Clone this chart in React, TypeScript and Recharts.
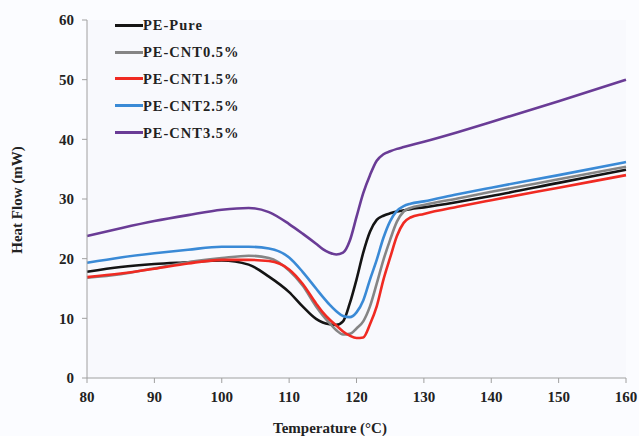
import { CartesianGrid, Line, LineChart, XAxis, YAxis } from "recharts"

const temps = [80, 85, 90, 95, 100, 104, 107, 110, 112, 114, 115, 116, 117, 118, 119, 120, 121, 122, 123, 124, 125, 126, 127, 128, 130, 135, 140, 150, 160]

const pePure = [17.8, 18.6, 19.1, 19.4, 19.7, 19.0, 17.0, 14.4, 12.0, 9.9, 9.3, 9.0, 8.9, 9.5, 12.5, 16.5, 21.0, 24.5, 26.5, 27.2, 27.6, 27.9, 28.1, 28.3, 28.6, 29.5, 30.5, 32.7, 34.9]
const cnt05 = [16.8, 17.4, 18.4, 19.4, 20.1, 20.5, 20.1, 18.0, 15.5, 12.0, 10.5, 9.2, 8.0, 7.3, 7.4, 8.3, 9.5, 12.0, 15.8, 19.8, 23.2, 26.2, 27.9, 28.5, 29.0, 30.1, 31.2, 33.3, 35.4]
const cnt15 = [16.9, 17.5, 18.3, 19.2, 19.8, 19.8, 19.6, 18.2, 15.8, 12.5, 11.0, 9.8, 8.8, 7.8, 7.1, 6.7, 6.8, 9.0, 12.0, 16.5, 20.2, 23.8, 26.0, 26.9, 27.5, 28.7, 29.8, 31.9, 34.0]
const cnt25 = [19.3, 20.2, 20.9, 21.5, 22.0, 22.0, 21.7, 20.2, 17.8, 15.0, 13.6, 12.3, 11.2, 10.4, 10.2, 11.0, 13.0, 16.5, 19.8, 23.5, 26.3, 28.0, 28.8, 29.2, 29.6, 30.8, 31.9, 34.0, 36.2]
const cnt35 = [23.8, 25.1, 26.3, 27.3, 28.2, 28.5, 27.8, 25.8, 24.2, 22.5, 21.6, 21.0, 20.7, 21.0, 23.0, 27.0, 31.0, 34.0, 36.4, 37.5, 38.0, 38.4, 38.7, 39.0, 39.6, 41.2, 42.9, 46.4, 50.0]

const xTicks = [80, 90, 100, 110, 120, 130, 140, 150, 160]
const yTicks = [0, 10, 20, 30, 40, 50, 60]

const series = [
  { key: "pure", name: "PE-Pure", color: "#141414", values: pePure },
  { key: "c05", name: "PE-CNT0.5%", color: "#858585", values: cnt05 },
  { key: "c15", name: "PE-CNT1.5%", color: "#f02a22", values: cnt15 },
  { key: "c25", name: "PE-CNT2.5%", color: "#3a8ad6", values: cnt25 },
  { key: "c35", name: "PE-CNT3.5%", color: "#6a3c96", values: cnt35 },
]

const data = temps.map((t, i) => {
  const row: Record<string, number> = { t }
  series.forEach((s) => {
    row[s.key] = s.values[i]
  })
  return row
})

const font = "Liberation Serif, Times New Roman, Tinos, Noto Serif, DejaVu Serif, serif"
const tickStyle = { fontFamily: font, fontSize: 15, fontWeight: 700, fill: "#222" }

export default function App() {
  return (
    <div style={{ position: "fixed", left: 0, top: 0, width: 639, height: 436, background: "#fbfcff", overflow: "hidden" }}>
      <LineChart width={639} height={436} data={data} margin={{ top: 20, right: 13, left: 27, bottom: 28 }}>
        <CartesianGrid fill="#f8f9fd" stroke="none" />
        <XAxis
          type="number"
          dataKey="t"
          domain={[80, 160]}
          ticks={xTicks}
          height={30}
          stroke="#a0a0a0"
          tickSize={5}
          tick={tickStyle}
          tickMargin={8}
          label={{
            content: () => (
              <text x={330} y={433} textAnchor="middle" fontFamily={font} fontSize={15} fontWeight={700} fill="#222">
                Temperature (°C)
              </text>
            ),
          }}
        />
        <YAxis
          type="number"
          domain={[0, 60]}
          ticks={yTicks}
          width={60}
          stroke="#a0a0a0"
          tickSize={5}
          tick={tickStyle}
          tickMargin={8}
          label={{
            content: () => (
              <text x={22} y={200} transform="rotate(-90 22 200)" textAnchor="middle" fontFamily={font} fontSize={15} fontWeight={700} fill="#222">
                Heat Flow (mW)
              </text>
            ),
          }}
        />
        {series.map((s) => (
          <Line
            key={s.key}
            type="monotone"
            dataKey={s.key}
            name={s.name}
            stroke={s.color}
            strokeWidth={2.6}
            dot={false}
            isAnimationActive={false}
          />
        ))}
      </LineChart>
      <div style={{ position: "absolute", left: 115, top: 12 }}>
        {series.map((s) => (
          <div key={s.key} style={{ display: "flex", alignItems: "center", height: 26.8 }}>
            <div style={{ width: 28, height: 3, background: s.color }} />
            <span style={{ fontFamily: font, fontSize: 14.5, fontWeight: 700, letterSpacing: 1, color: "#222", lineHeight: "16px" }}>
              {s.name}
            </span>
          </div>
        ))}
      </div>
    </div>
  )
}
